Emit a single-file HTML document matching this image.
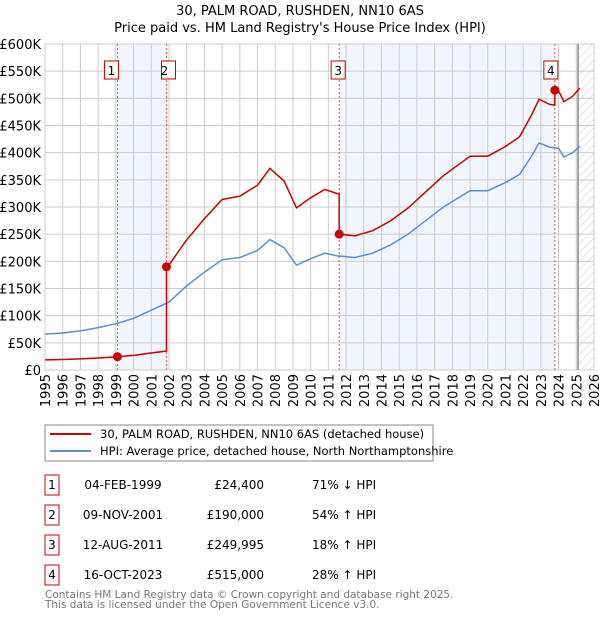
<!DOCTYPE html>
<html><head><meta charset="utf-8"><style>
body{margin:0;background:#fff;font-family:"DejaVu Sans","Liberation Sans",sans-serif;}
svg text{font-family:"DejaVu Sans","Liberation Sans",sans-serif;}
</style></head><body>
<svg id="chart" width="600" height="620" viewBox="0 0 600 620">
<defs><pattern id="hatch" width="6" height="6" patternUnits="userSpaceOnUse" patternTransform="rotate(45)"><line x1="0" y1="0" x2="0" y2="6" stroke="#ccc" stroke-width="1"/></pattern></defs>
<text x="300" y="15" text-anchor="middle" font-size="13">30, PALM ROAD, RUSHDEN, NN10 6AS</text>
<text x="300" y="32" text-anchor="middle" font-size="13">Price paid vs. HM Land Registry's House Price Index (HPI)</text>
<g id="plot"></g>
<g>
<rect x="45" y="425" width="388" height="36" fill="#fff" stroke="#888"/>
<line x1="50" y1="434" x2="91" y2="434" stroke="#cc0000" stroke-width="2"/>
<text x="100" y="438" font-size="11.5">30, PALM ROAD, RUSHDEN, NN10 6AS (detached house)</text>
<line x1="50" y1="451" x2="91" y2="451" stroke="#5b8fd4" stroke-width="2"/>
<text x="100" y="455" font-size="11.5">HPI: Average price, detached house, North Northamptonshire</text>
</g>
<g id="table" font-size="12"></g>
<text x="45" y="598" font-size="10.5" fill="#777">Contains HM Land Registry data © Crown copyright and database right 2025.</text>
<text x="45" y="608" font-size="10.5" fill="#777">This data is licensed under the Open Government Licence v3.0.</text>
</svg>
<script>
const hpiYears=[1995,1996,1997,1998,1999,2000,2001,2002,2003,2004,2005,2006,2007,2007.7,2008.5,2009.2,2010,2010.8,2011.5,2012.5,2013.5,2014.5,2015.5,2016.5,2017.5,2018.5,2019,2020,2021,2021.8,2022.5,2022.9,2023.5,2024,2024.3,2024.8,2025.2];
const hpiValues=[66,68,72,78,85,95,110,125,155,180,203,207,220,240,225,193,205,215,210,207,215,230,250,275,300,320,330,330,345,360,395,418,410,408,392,400,412];
const saleYears=[1999.09,2001.86,2011.61,2023.79];
const salePrices=[24.4,190,249.995,515];
const saleDates=["04-FEB-1999","09-NOV-2001","12-AUG-2011","16-OCT-2023"];
const salePriceLabels=["£24,400","£190,000","£249,995","£515,000"];
const saleHpiLabels=["71% ↓ HPI","54% ↑ HPI","18% ↑ HPI","28% ↑ HPI"];
const yTicks=[0,50,100,150,200,250,300,350,400,450,500,550,600];
const xTicks=[1995,1996,1997,1998,1999,2000,2001,2002,2003,2004,2005,2006,2007,2008,2009,2010,2011,2012,2013,2014,2015,2016,2017,2018,2019,2020,2021,2022,2023,2024,2025,2026];
const NS="http://www.w3.org/2000/svg";
const X0=45,X1=594,Y0=370,Y1=44;
const sx=t=>X0+(t-1995)/(2026-1995)*(X1-X0);
const sy=v=>Y0-v/600*(Y0-Y1);
function mk(tag,at,parent){const e=document.createElementNS(NS,tag);for(const k in at)e.setAttribute(k,at[k]);parent.appendChild(e);return e;}
function hpiAt(t){if(t<=hpiYears[0])return hpiValues[0];for(let i=1;i<hpiYears.length;i++){if(t<=hpiYears[i]){const f=(t-hpiYears[i-1])/(hpiYears[i]-hpiYears[i-1]);return hpiValues[i-1]+f*(hpiValues[i]-hpiValues[i-1]);}}return hpiValues[hpiValues.length-1];}
const g=document.getElementById('plot');
for(const [a,b] of [[0,1],[2,3]]){const r=mk('rect',{x:sx(saleYears[a]),y:Y1,width:sx(saleYears[b])-sx(saleYears[a]),height:Y0-Y1,fill:'#eef3fc',opacity:0.8},g);

}
const hx=sx(2025.1);
const ht=mk('rect',{x:hx,y:Y1,width:X1-hx,height:Y0-Y1,fill:'url(#hatch)'},g);


for(const v of yTicks){const l=mk('line',{x1:X0,x2:X1,y1:sy(v),y2:sy(v),stroke:'#ccc'},g);


const t=mk('text',{x:X0-4,y:sy(v)+5,'text-anchor':'end','font-size':'13'},g);t.textContent=v===0?'£0':'£'+v+'K';

}
for(const yr of xTicks){const l=mk('line',{x1:sx(yr),x2:sx(yr),y1:Y1,y2:Y0,stroke:'#ccc'},g);


const t=mk('text',{transform:`translate(${sx(yr)+5},${Y0+4}) rotate(-90)`,'text-anchor':'end','font-size':'13'},g);t.textContent=yr;

}
mk('rect',{x:X0,y:Y1,width:X1-X0,height:Y0-Y1,fill:'none',stroke:'#ccc'},g);
const vl=mk('line',{x1:hx,x2:hx,y1:Y1,y2:Y0,stroke:'#888','stroke-width':1.5},g);


saleYears.forEach((t,i)=>{const l=mk('line',{x1:sx(t),x2:sx(t),y1:Y1,y2:Y0,stroke:'#e55','stroke-dasharray':'2,2','stroke-width':1},g);

});
let pts=[];for(let i=0;i<hpiYears.length;i++)pts.push(sx(hpiYears[i])+','+sy(hpiValues[i]));
const hp=mk('polyline',{points:pts.join(' '),fill:'none',stroke:'#5b8fd4','stroke-width':1.5},g);


let rp=[];const ts=[...hpiYears];saleYears.forEach(t=>{ts.push(t);ts.push(t-0.001);});ts.sort((a,b)=>a-b);
for(const t of ts){let k=0;for(let i=0;i<saleYears.length;i++)if(t>=saleYears[i])k=i;const r=salePrices[k]/hpiAt(saleYears[k]);rp.push(sx(t)+','+sy(hpiAt(t)*r));}
const pp=mk('polyline',{points:rp.join(' '),fill:'none',stroke:'#cc0000','stroke-width':1.5},g);


saleYears.forEach((t,i)=>{const c=mk('circle',{cx:sx(t),cy:sy(salePrices[i]),r:4.5,fill:'#cc0000'},g);


const b=mk('rect',{x:sx(t)-(i===0?13:i===1?5:i===2?8:11),y:61,width:14,height:18,fill:'#fff',stroke:'#cc0000'},g);


const tx=mk('text',{x:sx(t)-(i===0?6:i===1?2:i===2?1:4),y:75,'text-anchor':'middle','font-size':'12'},g);tx.textContent=i+1;

});
const tb=document.getElementById('table');
saleDates.forEach((d,i)=>{const y=485+i*30;
const r=mk('rect',{x:45,y:y-10,width:14,height:20,fill:'#fff',stroke:'#cc0000'},tb);


const n=mk('text',{x:52,y:y+4,'text-anchor':'middle'},tb);n.textContent=i+1;


const a=mk('text',{x:123,y:y+4,'text-anchor':'middle'},tb);a.textContent=d;


const p=mk('text',{x:264,y:y+4,'text-anchor':'end'},tb);p.textContent=salePriceLabels[i];


const h=mk('text',{x:312,y:y+4},tb);h.textContent=saleHpiLabels[i];

});
</script>
</body></html>
